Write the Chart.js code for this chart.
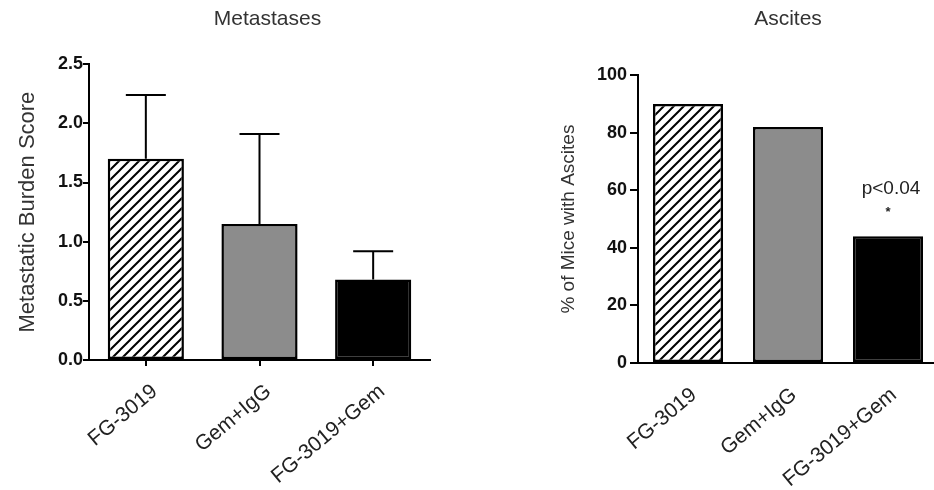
<!DOCTYPE html>
<html>
<head>
<meta charset="utf-8">
<script src="https://cdn.jsdelivr.net/npm/chart.js@4/dist/chart.umd.min.js"></script>
<style>
  html, body { margin: 0; padding: 0; background: #fff; overflow: hidden; }
  .panel { position: absolute; top: 0; height: 490px; }
  #leftPanel { left: 0; width: 460px; }
  #rightPanel { left: 520px; width: 418px; }
</style>
</head>
<body>
<div class="panel" id="leftPanel"><canvas id="metastases"></canvas></div>
<div class="panel" id="rightPanel"><canvas id="ascites"></canvas></div>
<script>
"use strict";

// treatment groups (same order in both panels)
const groups = ["FG-3019", "Gem+IgG", "FG-3019+Gem"];

// Metastases panel: mean score and upper error
const burdenMean = [1.70, 1.15, 0.68];
const burdenErr = [0.54, 0.76, 0.24];
const burdenTicks = [0, 0.5, 1.0, 1.5, 2.0, 2.5];

// Ascites panel: % of mice
const ascitesPct = [90, 82, 44];
const ascitesTicks = [0, 20, 40, 60, 80, 100];
const ascitesNote = ["", "", "p<0.04"];

const FONT = "'Liberation Sans', Arial, sans-serif";

function hatchPattern() {
    let c = document.createElement("canvas");
    c.width = 10;
    c.height = 10;
    let g = c.getContext("2d");
    g.fillStyle = "#fff";
    g.fillRect(0, 0, 10, 10);
    g.strokeStyle = "#000";
    g.lineWidth = 2;
    g.beginPath();
    g.moveTo(0, 10); g.lineTo(10, 0);
    g.moveTo(-2, 2); g.lineTo(2, -2);
    g.moveTo(8, 12); g.lineTo(12, 8);
    g.stroke();
    return g.createPattern(c, "repeat");
}

const barFills = [hatchPattern(), "#8c8c8c", "#000000"];

// upper error bars drawn from the y scale
const errorBars = {
    id: "errorBars",
    afterDatasetsDraw(chart, args, opts) {
        if (!opts.values) return;
        let ctx = chart.ctx;
        let y = chart.scales.y;
        let vals = chart.data.datasets[0].data;
        chart.getDatasetMeta(0).data.forEach(function(bar, i) {
            let top = y.getPixelForValue(vals[i] + opts.values[i]);
            ctx.save();
            ctx.strokeStyle = "#000";
            ctx.lineWidth = 2;
            ctx.beginPath();
            ctx.moveTo(bar.x, bar.y);
            ctx.lineTo(bar.x, top);
            ctx.moveTo(bar.x - opts.cap / 2, top);
            ctx.lineTo(bar.x + opts.cap / 2, top);
            ctx.stroke();
            ctx.restore();
        });
    }
};

// nudge the chart title sideways after layout
const titleShift = {
    id: "titleShift",
    afterLayout(chart, args, opts) {
        if (!opts.dx || !chart.titleBlock) return;
        chart.titleBlock.left += opts.dx;
        chart.titleBlock.right += opts.dx;
    }
};

// significance note above a bar
const sigNotes = {
    id: "sigNotes",
    afterDatasetsDraw(chart, args, opts) {
        if (!opts.notes) return;
        let ctx = chart.ctx;
        chart.getDatasetMeta(0).data.forEach(function(bar, i) {
            if (!opts.notes[i]) return;
            ctx.save();
            ctx.fillStyle = "#222";
            ctx.textAlign = "center";
            ctx.textBaseline = "alphabetic";
            ctx.font = "19px " + FONT;
            ctx.fillText(opts.notes[i], bar.x + 3, bar.y - 42);
            ctx.font = "bold 13px " + FONT;
            ctx.fillText("*", bar.x, bar.y - 20);
            ctx.restore();
        });
    }
};

let ctxMet = document.getElementById("metastases").getContext("2d");
let ctxAsc = document.getElementById("ascites").getContext("2d");

let metastasesChart = new Chart(ctxMet, {
    type: "bar",
    data: {
        labels: groups,
        datasets: [{
            data: burdenMean,
            backgroundColor: barFills,
            borderColor: "#000",
            borderWidth: 2.5,
            borderSkipped: false,
            barPercentage: 0.67,
            categoryPercentage: 1
        }]
    },
    plugins: [errorBars, titleShift],
    options: {
        responsive: true,
        maintainAspectRatio: false,
        animation: false,
        layout: { padding: { left: 0, right: 30, top: 0, bottom: 0 } },
        plugins: {
            legend: { display: false },
            tooltip: { enabled: false },
            title: {
                display: true,
                fullSize: false,
                text: "Metastases",
                color: "#333",
                font: { family: FONT, size: 21, weight: "normal" },
                padding: { top: 7, bottom: 32 }
            },
            titleShift: { dx: 8 },
            errorBars: { values: burdenErr, cap: 40 }
        },
        scales: {
            x: {
                border: { color: "#000", width: 2 },
                grid: { drawOnChartArea: false, offset: false, color: "#000", lineWidth: 2, tickLength: 6 },
                ticks: {
                    color: "#222",
                    font: { family: FONT, size: 21, lineHeight: 1.6 },
                    minRotation: 40,
                    maxRotation: 40,
                    autoSkip: false,
                    padding: 10,
                    labelOffset: 9
                },
                afterFit: function(scale) { scale.height = 130; }
            },
            y: {
                min: 0,
                max: 2.5,
                border: { color: "#000", width: 2 },
                grid: { drawOnChartArea: false, color: "#000", lineWidth: 2, tickLength: 6 },
                afterBuildTicks: function(scale) {
                    scale.ticks = burdenTicks.map(v => ({ value: v }));
                },
                ticks: {
                    color: "#111",
                    font: { family: FONT, size: 18, weight: "bold" },
                    padding: 0,
                    callback: v => v.toFixed(1)
                },
                title: {
                    display: true,
                    text: "Metastatic Burden Score",
                    color: "#333",
                    font: { family: FONT, size: 22 },
                    padding: { top: 15, bottom: 0 }
                },
                afterFit: function(scale) { scale.width = 89; }
            }
        }
    }
});

let ascitesChart = new Chart(ctxAsc, {
    type: "bar",
    data: {
        labels: groups,
        datasets: [{
            data: ascitesPct,
            backgroundColor: barFills,
            borderColor: "#000",
            borderWidth: 2.5,
            borderSkipped: false,
            barPercentage: 0.7,
            categoryPercentage: 1
        }]
    },
    plugins: [sigNotes],
    options: {
        responsive: true,
        maintainAspectRatio: false,
        animation: false,
        layout: { padding: 0 },
        plugins: {
            legend: { display: false },
            tooltip: { enabled: false },
            title: {
                display: true,
                fullSize: false,
                text: "Ascites",
                color: "#333",
                font: { family: FONT, size: 21, weight: "normal" },
                padding: { top: 7, bottom: 43 }
            },
            sigNotes: { notes: ascitesNote }
        },
        scales: {
            x: {
                border: { color: "#000", width: 2 },
                grid: { drawOnChartArea: false, drawTicks: false },
                ticks: {
                    color: "#222",
                    font: { family: FONT, size: 21, lineHeight: 1.4 },
                    minRotation: 40,
                    maxRotation: 40,
                    autoSkip: false,
                    padding: 18,
                    labelOffset: 6
                },
                afterFit: function(scale) { scale.height = 127; }
            },
            y: {
                min: 0,
                max: 100,
                border: { color: "#000", width: 2 },
                grid: { drawOnChartArea: false, color: "#000", lineWidth: 2, tickLength: 8 },
                afterBuildTicks: function(scale) {
                    scale.ticks = ascitesTicks.map(v => ({ value: v }));
                },
                ticks: {
                    color: "#111",
                    font: { family: FONT, size: 18, weight: "bold" },
                    padding: 3
                },
                title: {
                    display: true,
                    text: "% of Mice with Ascites",
                    color: "#333",
                    font: { family: FONT, size: 19 },
                    padding: { top: 37, bottom: 0 }
                },
                afterFit: function(scale) { scale.width = 118; }
            }
        }
    }
});
</script>
</body>
</html>
